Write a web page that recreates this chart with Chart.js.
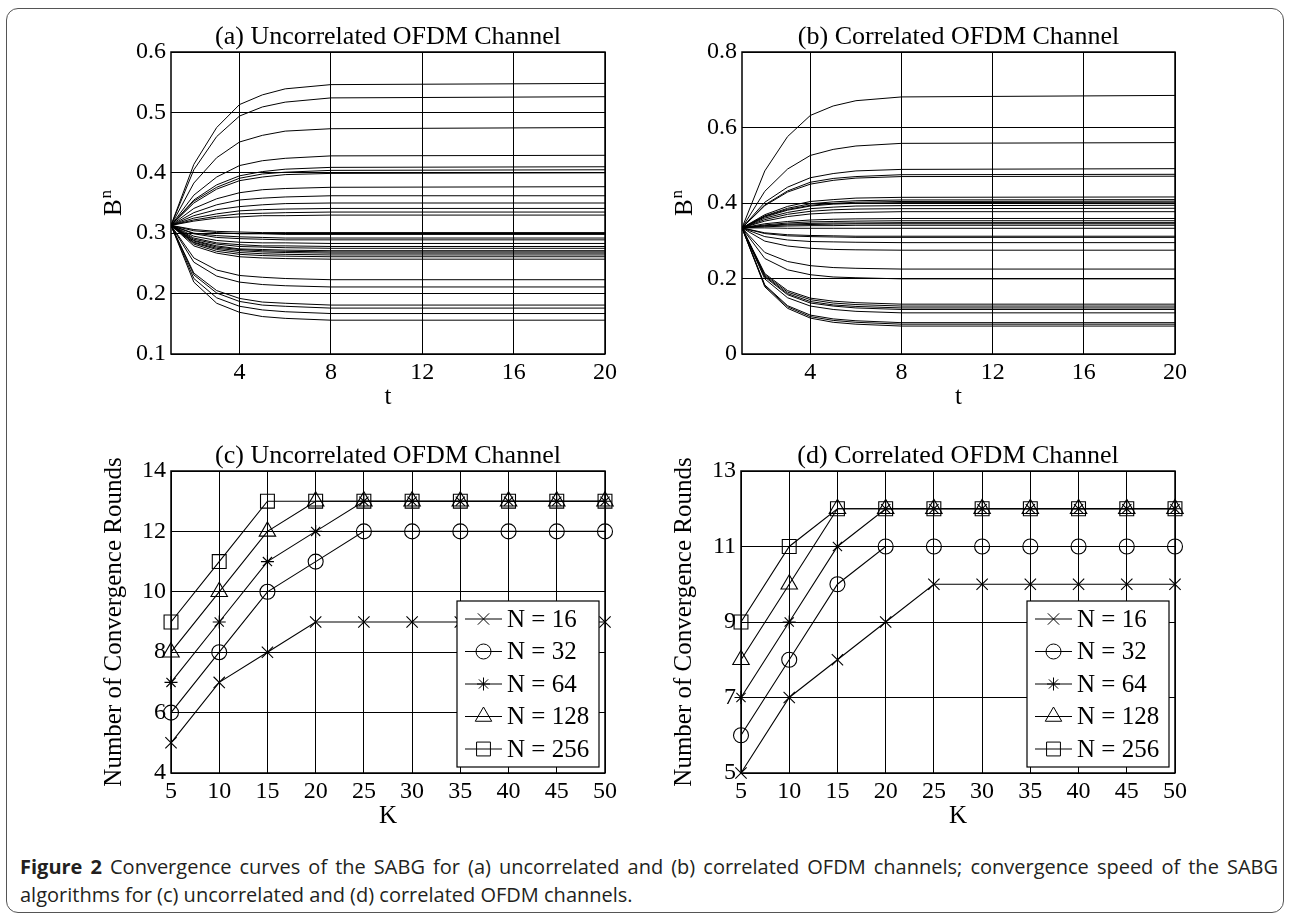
<!DOCTYPE html>
<html>
<head>
<meta charset="utf-8">
<script src="https://cdn.jsdelivr.net/npm/chart.js@4.4.1/dist/chart.umd.min.js"></script>
<style>
html, body { margin: 0; padding: 0; background: #fff; }
body { width: 1289px; height: 916px; position: relative; overflow: hidden; }
.frame { position: absolute; left: 6px; top: 8px; width: 1278px; height: 905px; box-sizing: border-box;
         border: 1.5px solid #555; border-radius: 12px; }
.panel { position: absolute; width: 650px; height: 420px; }
#caption { position: absolute; left: 20px; top: 853px; width: 1258px; font-family: "Open Sans", sans-serif;
           font-size: 20px; line-height: 28px; color: #231f20; }
#caption .l1 { text-align: justify; text-align-last: justify; }
</style>
</head>
<body>
<div class="frame"></div>
<div class="panel" style="left:0px;top:0px"><canvas id="chartA"></canvas></div>
<div class="panel" style="left:571px;top:0px"><canvas id="chartB"></canvas></div>
<div class="panel" style="left:0px;top:419px"><canvas id="chartC"></canvas></div>
<div class="panel" style="left:570px;top:419px"><canvas id="chartD"></canvas></div>
<div id="caption">
  <div class="l1"><b>Figure 2</b> Convergence curves of the SABG for (a) uncorrelated and (b) correlated OFDM channels; convergence speed of the SABG</div>
  <div>algorithms for (c) uncorrelated and (d) correlated OFDM channels.</div>
</div>
<script>
const tSteps = [1, 2, 3, 4, 5, 6, 8, 20];

// (a) uncorrelated channel, one row per subcarrier
const bUncorrelated = [
  [0.313, 0.414, 0.475, 0.513, 0.529, 0.539, 0.546, 0.548],
  [0.313, 0.405, 0.460, 0.494, 0.509, 0.517, 0.524, 0.526],
  [0.313, 0.383, 0.425, 0.451, 0.462, 0.469, 0.473, 0.475],
  [0.313, 0.363, 0.393, 0.412, 0.420, 0.424, 0.428, 0.429],
  [0.313, 0.355, 0.380, 0.395, 0.402, 0.406, 0.409, 0.410],
  [0.313, 0.353, 0.376, 0.391, 0.398, 0.401, 0.404, 0.405],
  [0.313, 0.350, 0.373, 0.387, 0.393, 0.397, 0.399, 0.400],
  [0.313, 0.341, 0.357, 0.367, 0.372, 0.374, 0.376, 0.377],
  [0.313, 0.334, 0.347, 0.355, 0.358, 0.360, 0.362, 0.362],
  [0.313, 0.329, 0.339, 0.344, 0.347, 0.349, 0.350, 0.350],
  [0.313, 0.325, 0.332, 0.337, 0.339, 0.340, 0.341, 0.341],
  [0.313, 0.322, 0.328, 0.332, 0.333, 0.334, 0.335, 0.335],
  [0.313, 0.320, 0.325, 0.327, 0.329, 0.329, 0.330, 0.330],
  [0.313, 0.306, 0.303, 0.302, 0.301, 0.301, 0.301, 0.301],
  [0.313, 0.304, 0.301, 0.299, 0.299, 0.298, 0.298, 0.298],
  [0.313, 0.300, 0.296, 0.294, 0.293, 0.292, 0.292, 0.292],
  [0.313, 0.299, 0.293, 0.291, 0.290, 0.289, 0.289, 0.289],
  [0.313, 0.295, 0.288, 0.285, 0.284, 0.284, 0.283, 0.283],
  [0.313, 0.292, 0.284, 0.281, 0.279, 0.279, 0.278, 0.278],
  [0.313, 0.290, 0.282, 0.278, 0.277, 0.276, 0.275, 0.275],
  [0.313, 0.288, 0.279, 0.274, 0.273, 0.272, 0.271, 0.271],
  [0.313, 0.287, 0.277, 0.273, 0.271, 0.270, 0.269, 0.269],
  [0.313, 0.285, 0.275, 0.271, 0.269, 0.268, 0.267, 0.267],
  [0.313, 0.284, 0.273, 0.268, 0.266, 0.265, 0.264, 0.264],
  [0.313, 0.282, 0.270, 0.265, 0.263, 0.262, 0.261, 0.261],
  [0.313, 0.279, 0.267, 0.261, 0.259, 0.258, 0.257, 0.257],
  [0.313, 0.259, 0.239, 0.230, 0.227, 0.225, 0.223, 0.223],
  [0.313, 0.252, 0.229, 0.219, 0.215, 0.213, 0.211, 0.211],
  [0.313, 0.234, 0.205, 0.192, 0.186, 0.184, 0.181, 0.181],
  [0.313, 0.231, 0.201, 0.187, 0.181, 0.179, 0.176, 0.176],
  [0.313, 0.225, 0.193, 0.179, 0.173, 0.170, 0.167, 0.167],
  [0.313, 0.219, 0.184, 0.169, 0.162, 0.159, 0.156, 0.156]
];

// (b) correlated channel
const bCorrelated = [
  [0.334, 0.485, 0.576, 0.632, 0.657, 0.671, 0.681, 0.685],
  [0.334, 0.431, 0.490, 0.526, 0.542, 0.551, 0.558, 0.560],
  [0.334, 0.402, 0.442, 0.467, 0.478, 0.485, 0.489, 0.491],
  [0.334, 0.395, 0.432, 0.455, 0.465, 0.470, 0.475, 0.476],
  [0.334, 0.393, 0.429, 0.450, 0.460, 0.466, 0.470, 0.471],
  [0.334, 0.369, 0.391, 0.404, 0.409, 0.413, 0.415, 0.416],
  [0.334, 0.366, 0.386, 0.398, 0.403, 0.406, 0.408, 0.409],
  [0.334, 0.365, 0.383, 0.394, 0.399, 0.402, 0.404, 0.405],
  [0.334, 0.363, 0.381, 0.392, 0.397, 0.399, 0.401, 0.402],
  [0.334, 0.360, 0.375, 0.385, 0.389, 0.392, 0.393, 0.394],
  [0.334, 0.356, 0.370, 0.378, 0.382, 0.384, 0.385, 0.386],
  [0.334, 0.352, 0.364, 0.371, 0.374, 0.375, 0.377, 0.377],
  [0.334, 0.345, 0.351, 0.355, 0.357, 0.358, 0.359, 0.359],
  [0.334, 0.342, 0.347, 0.350, 0.351, 0.352, 0.353, 0.353],
  [0.334, 0.340, 0.344, 0.346, 0.347, 0.347, 0.348, 0.348],
  [0.334, 0.339, 0.342, 0.343, 0.344, 0.345, 0.345, 0.345],
  [0.334, 0.337, 0.339, 0.340, 0.340, 0.341, 0.341, 0.341],
  [0.334, 0.334, 0.333, 0.333, 0.333, 0.333, 0.333, 0.333],
  [0.334, 0.321, 0.316, 0.314, 0.313, 0.312, 0.312, 0.312],
  [0.334, 0.319, 0.313, 0.311, 0.310, 0.309, 0.309, 0.309],
  [0.334, 0.311, 0.302, 0.298, 0.297, 0.296, 0.295, 0.295],
  [0.334, 0.299, 0.286, 0.280, 0.277, 0.276, 0.275, 0.275],
  [0.334, 0.269, 0.245, 0.234, 0.229, 0.227, 0.225, 0.225],
  [0.334, 0.253, 0.223, 0.210, 0.204, 0.202, 0.199, 0.199],
  [0.334, 0.213, 0.168, 0.148, 0.140, 0.136, 0.132, 0.132],
  [0.334, 0.210, 0.164, 0.144, 0.135, 0.131, 0.127, 0.127],
  [0.334, 0.207, 0.160, 0.139, 0.130, 0.126, 0.122, 0.122],
  [0.334, 0.204, 0.157, 0.135, 0.127, 0.122, 0.118, 0.118],
  [0.334, 0.199, 0.149, 0.127, 0.118, 0.113, 0.109, 0.109],
  [0.334, 0.183, 0.128, 0.103, 0.093, 0.088, 0.083, 0.083],
  [0.334, 0.181, 0.125, 0.099, 0.089, 0.084, 0.079, 0.079],
  [0.334, 0.178, 0.121, 0.095, 0.084, 0.079, 0.074, 0.074]
];

const tTicks = [4, 8, 12, 16, 20];
const bTicksA = [0.1, 0.2, 0.3, 0.4, 0.5, 0.6];
const bTicksB = [0, 0.2, 0.4, 0.6, 0.8];

// (c)/(d) convergence rounds vs K
const kValues = [5, 10, 15, 20, 25, 30, 35, 40, 45, 50];
const nLabels = ['N = 16', 'N = 32', 'N = 64', 'N = 128', 'N = 256'];
const nMarkers = ['crossRot', 'circle', 'star', 'triangle', 'rect'];
const roundsUncorrelated = [
  [5, 7, 8, 9, 9, 9, 9, 9, 9, 9],
  [6, 8, 10, 11, 12, 12, 12, 12, 12, 12],
  [7, 9, 11, 12, 13, 13, 13, 13, 13, 13],
  [8, 10, 12, 13, 13, 13, 13, 13, 13, 13],
  [9, 11, 13, 13, 13, 13, 13, 13, 13, 13]
];
const roundsCorrelated = [
  [5, 7, 8, 9, 10, 10, 10, 10, 10, 10],
  [6, 8, 10, 11, 11, 11, 11, 11, 11, 11],
  [7, 9, 11, 12, 12, 12, 12, 12, 12, 12],
  [8, 10, 12, 12, 12, 12, 12, 12, 12, 12],
  [9, 11, 12, 12, 12, 12, 12, 12, 12, 12]
];
const kTicks = [5, 10, 15, 20, 25, 30, 35, 40, 45, 50];
const roundTicksC = [4, 6, 8, 10, 12, 14];
const roundTicksD = [5, 7, 9, 11, 13];

const SERIF = '"Liberation Serif", "Times New Roman", serif';
const markerRadius = {crossRot: 8, circle: 7.5, star: 6.5, triangle: 9.5, rect: 9.8};

// y axis label (drawn by hand so that it may run past the plot height and carry a superscript)
// plus the heavier box around the plot and the boxed legend of (c)/(d)
const panelDecor = {
  id: 'panelDecor',
  afterDraw(chart, args, opts) {
    const {ctx, chartArea} = chart;
    ctx.save();
    ctx.strokeStyle = '#000';
    ctx.lineWidth = 1.5;
    ctx.strokeRect(chartArea.left, chartArea.top, chartArea.right - chartArea.left, chartArea.bottom - chartArea.top);

    // y title
    ctx.save();
    ctx.translate(chartArea.left - 50, (chartArea.top + chartArea.bottom) / 2);
    ctx.rotate(-Math.PI / 2);
    ctx.fillStyle = '#000';
    ctx.textBaseline = 'alphabetic';
    ctx.textAlign = 'left';
    ctx.font = '25px ' + SERIF;
    const wMain = ctx.measureText(opts.yTitle).width;
    let wSup = 0;
    if (opts.ySup) {
      ctx.font = '17px ' + SERIF;
      wSup = ctx.measureText(opts.ySup).width + 1;
    }
    const x0 = -(wMain + wSup) / 2;
    ctx.font = '25px ' + SERIF;
    ctx.fillText(opts.yTitle, x0, 0);
    if (opts.ySup) {
      ctx.font = '17px ' + SERIF;
      ctx.fillText(opts.ySup, x0 + wMain + 1, -10);
    }
    ctx.restore();

    if (opts.legend) {
      const w = 142, h = 166;
      const lx = chartArea.right - 6 - w, ly = chartArea.bottom - 6 - h;
      ctx.fillStyle = '#fff';
      ctx.fillRect(lx, ly, w, h);
      ctx.lineWidth = 1.2;
      ctx.strokeRect(lx, ly, w, h);
      chart.data.datasets.forEach((ds, i) => {
        const cy = ly + 18 + i * 32.5;
        ctx.lineWidth = 1;
        ctx.strokeStyle = '#000';
        ctx.beginPath();
        ctx.moveTo(lx + 8, cy);
        ctx.lineTo(lx + 45, cy);
        ctx.stroke();
        ctx.fillStyle = 'rgba(0,0,0,0)';
        Chart.helpers.drawPoint(ctx, {pointStyle: ds.pointStyle, radius: ds.pointRadius, borderWidth: 1.1, rotation: 0}, lx + 26.5, cy);
        ctx.fillStyle = '#000';
        ctx.font = '25px ' + SERIF;
        ctx.textAlign = 'left';
        ctx.textBaseline = 'middle';
        ctx.fillText(ds.label, lx + 50, cy + 1);
      });
    }
    ctx.restore();
  }
};

function axisX(min, max, ticks, title) {
  return {
    type: 'linear', min: min, max: max,
    afterBuildTicks: s => { s.ticks = ticks.map(v => ({value: v})); },
    afterFit: s => { s.height = 61; },
    grid: {color: '#000', lineWidth: 1, drawTicks: false},
    border: {display: false},
    ticks: {color: '#000', font: {family: SERIF, size: 24}, padding: 4, maxRotation: 0, autoSkip: false,
            callback: v => String(v)},
    title: {display: true, text: title, color: '#000', font: {family: SERIF, size: 25, lineHeight: 1},
            padding: {top: 0, bottom: 5}}
  };
}

function axisY(min, max, ticks) {
  return {
    type: 'linear', min: min, max: max,
    afterBuildTicks: s => { s.ticks = ticks.map(v => ({value: v})); },
    afterFit: s => { s.width = 71; },
    grid: {color: '#000', lineWidth: 1, drawTicks: false},
    border: {display: false},
    ticks: {color: '#000', font: {family: SERIF, size: 24}, padding: 5, autoSkip: false,
            callback: v => String(v)}
  };
}

function makePanel(id, title, datasets, xScale, yScale, decor, padRight) {
  return new Chart(document.getElementById(id), {
    type: 'line',
    data: {datasets: datasets},
    options: {
      responsive: true,
      maintainAspectRatio: false,
      animation: false,
      devicePixelRatio: 1,
      layout: {padding: {left: 100, right: padRight, top: 24, bottom: 5}},
      plugins: {
        legend: {display: false},
        tooltip: {enabled: false},
        title: {display: true, text: title, fullSize: false, color: '#000',
                font: {family: SERIF, size: 26, weight: 'normal', lineHeight: 1},
                padding: {top: 0, bottom: 2}},
        panelDecor: decor
      },
      scales: {x: xScale, y: yScale}
    },
    plugins: [panelDecor]
  });
}

function curveSets(rows) {
  return rows.map(row => ({
    data: row.map((v, i) => ({x: tSteps[i], y: v})),
    borderColor: '#000',
    borderWidth: 1,
    pointRadius: 0,
    fill: false,
    tension: 0
  }));
}

function roundSets(rows) {
  return rows.map((row, i) => ({
    label: nLabels[i],
    data: row.map((v, j) => ({x: kValues[j], y: v})),
    borderColor: '#000',
    borderWidth: 1.1,
    pointStyle: nMarkers[i],
    pointRadius: markerRadius[nMarkers[i]],
    pointBorderWidth: 1.1,
    pointBorderColor: '#000',
    pointBackgroundColor: 'rgba(0,0,0,0)',
    fill: false,
    tension: 0,
    clip: false
  }));
}

makePanel('chartA', '(a) Uncorrelated OFDM Channel', curveSets(bUncorrelated),
  axisX(1, 20, tTicks, 't'), axisY(0.1, 0.6, bTicksA), {yTitle: 'B', ySup: 'n'}, 45);
makePanel('chartB', '(b) Correlated OFDM Channel', curveSets(bCorrelated),
  axisX(1, 20, tTicks, 't'), axisY(0, 0.8, bTicksB), {yTitle: 'B', ySup: 'n'}, 46);
makePanel('chartC', '(c) Uncorrelated OFDM Channel', roundSets(roundsUncorrelated),
  axisX(5, 50, kTicks, 'K'), axisY(4, 14, roundTicksC), {yTitle: 'Number of Convergence Rounds', legend: true}, 45);
makePanel('chartD', '(d) Correlated OFDM Channel', roundSets(roundsCorrelated),
  axisX(5, 50, kTicks, 'K'), axisY(5, 13, roundTicksD), {yTitle: 'Number of Convergence Rounds', legend: true}, 45);
</script>
</body>
</html>
